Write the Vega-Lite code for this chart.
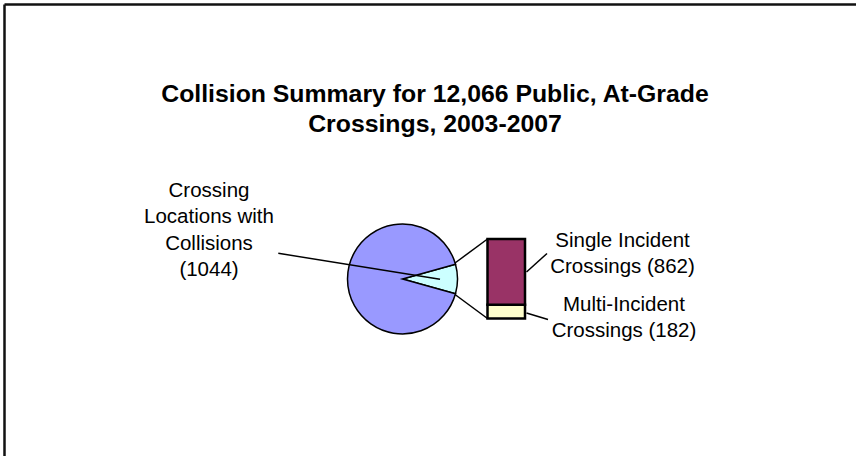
{
  "$schema": "https://vega.github.io/schema/vega-lite/v6.json",
  "width": 856,
  "height": 456,
  "padding": 0,
  "autosize": "none",
  "background": "white",
  "config": {"view": {"stroke": null}, "text": {"font": "Liberation Sans", "color": "black"}},
  "datasets": {
    "pie": [
      {"part": "Crossing Locations with Collisions", "count": 1044, "k": 1},
      {"part": "Crossings without Collisions", "count": 11022, "k": 2}
    ],
    "bar": [
      {"group": "Collisions", "part": "Multi-Incident Crossings", "count": 182, "k": 1},
      {"group": "Collisions", "part": "Single Incident Crossings", "count": 862, "k": 2}
    ]
  },
  "layer": [
    {
      "data": {"values": [{}]},
      "layer": [
        {
          "mark": {"type": "rule", "stroke": "#111111", "strokeWidth": 2.5},
          "encoding": {
            "x": {"datum": 4.5, "type": "quantitative", "scale": {"domain": [0, 856], "nice": false, "zero": false}, "axis": null},
            "y": {"datum": 4.5, "type": "quantitative", "scale": {"domain": [0, 456], "nice": false, "zero": false, "reverse": true}, "axis": null},
            "x2": {"datum": 900},
            "y2": {"datum": 4.5}
          }
        },
        {
          "mark": {"type": "rule", "stroke": "#111111", "strokeWidth": 2.5},
          "encoding": {
            "x": {"datum": 4.5, "type": "quantitative"},
            "y": {"datum": 4.5, "type": "quantitative"},
            "x2": {"datum": 4.5},
            "y2": {"datum": 500}
          }
        },
        {
          "mark": {"type": "text", "text": ["Collision Summary for 12,066 Public, At-Grade", "Crossings, 2003-2007"], "fontSize": 24.8, "fontWeight": "bold", "align": "center", "baseline": "alphabetic", "lineHeight": 29.5},
          "encoding": {
            "x": {"datum": 435, "type": "quantitative"},
            "y": {"datum": 102, "type": "quantitative"}
          }
        },
        {
          "mark": {"type": "text", "text": ["Crossing", "Locations with", "Collisions", "(1044)"], "fontSize": 20.5, "align": "center", "baseline": "alphabetic", "lineHeight": 26.5},
          "encoding": {
            "x": {"datum": 209, "type": "quantitative"},
            "y": {"datum": 196.5, "type": "quantitative"}
          }
        },
        {
          "mark": {"type": "text", "text": ["Single Incident", "Crossings (862)"], "fontSize": 20.5, "align": "center", "baseline": "alphabetic", "lineHeight": 26.5},
          "encoding": {
            "x": {"datum": 622.5, "type": "quantitative"},
            "y": {"datum": 246.5, "type": "quantitative"}
          }
        },
        {
          "mark": {"type": "text", "text": ["Multi-Incident", "Crossings (182)"], "fontSize": 20.5, "align": "center", "baseline": "alphabetic", "lineHeight": 26.5},
          "encoding": {
            "x": {"datum": 624, "type": "quantitative"},
            "y": {"datum": 310.5, "type": "quantitative"}
          }
        },
        {
          "data": {"name": "pie"},
          "mark": {"type": "arc", "outerRadius": 55, "stroke": "black", "strokeWidth": 1.5},
          "encoding": {
            "theta": {"field": "count", "type": "quantitative", "stack": true, "scale": {"range": [1.29895, 7.58213]}},
            "order": {"field": "k", "type": "quantitative"},
            "color": {"field": "part", "type": "nominal", "legend": null, "scale": {"domain": ["Crossing Locations with Collisions", "Crossings without Collisions", "Single Incident Crossings", "Multi-Incident Crossings"], "range": ["#CCFFFF", "#9999FF", "#993366", "#FFFFCC"]}},
            "x": {"datum": 402.5, "type": "quantitative"},
            "y": {"datum": 279, "type": "quantitative"}
          }
        },
        {
          "mark": {"type": "rule", "stroke": "black", "strokeWidth": 1.5},
          "encoding": {
            "x": {"datum": 278.3, "type": "quantitative"},
            "y": {"datum": 253.3, "type": "quantitative"},
            "x2": {"datum": 440},
            "y2": {"datum": 279.3}
          }
        },
        {
          "mark": {"type": "rule", "stroke": "black", "strokeWidth": 1.5},
          "encoding": {
            "x": {"datum": 455, "type": "quantitative"},
            "y": {"datum": 263, "type": "quantitative"},
            "x2": {"datum": 487.5},
            "y2": {"datum": 239}
          }
        },
        {
          "mark": {"type": "rule", "stroke": "black", "strokeWidth": 1.5},
          "encoding": {
            "x": {"datum": 455, "type": "quantitative"},
            "y": {"datum": 294.5, "type": "quantitative"},
            "x2": {"datum": 487.5},
            "y2": {"datum": 318.5}
          }
        },
        {
          "mark": {"type": "rule", "stroke": "black", "strokeWidth": 1.5},
          "encoding": {
            "x": {"datum": 526.5, "type": "quantitative"},
            "y": {"datum": 272, "type": "quantitative"},
            "x2": {"datum": 547},
            "y2": {"datum": 253.5}
          }
        },
        {
          "mark": {"type": "rule", "stroke": "black", "strokeWidth": 1.5},
          "encoding": {
            "x": {"datum": 526.5, "type": "quantitative"},
            "y": {"datum": 313, "type": "quantitative"},
            "x2": {"datum": 548},
            "y2": {"datum": 319.5}
          }
        }
      ]
    },
    {
      "data": {"name": "bar"},
      "mark": {"type": "bar", "stroke": "black", "strokeWidth": 2.5},
      "encoding": {
        "x": {"field": "group", "type": "nominal", "scale": {"type": "band", "range": [487.5, 525], "paddingInner": 0, "paddingOuter": 0}, "axis": null},
        "y": {"field": "count", "type": "quantitative", "stack": "zero", "scale": {"domain": [0, 1044], "range": [318.5, 239], "nice": false}, "axis": null},
        "order": {"field": "k", "type": "quantitative"},
        "color": {"field": "part", "type": "nominal", "legend": null, "scale": {"domain": ["Crossing Locations with Collisions", "Crossings without Collisions", "Single Incident Crossings", "Multi-Incident Crossings"], "range": ["#CCFFFF", "#9999FF", "#993366", "#FFFFCC"]}}
      }
    }
  ],
  "resolve": {"scale": {"x": "independent", "y": "independent"}}
}
